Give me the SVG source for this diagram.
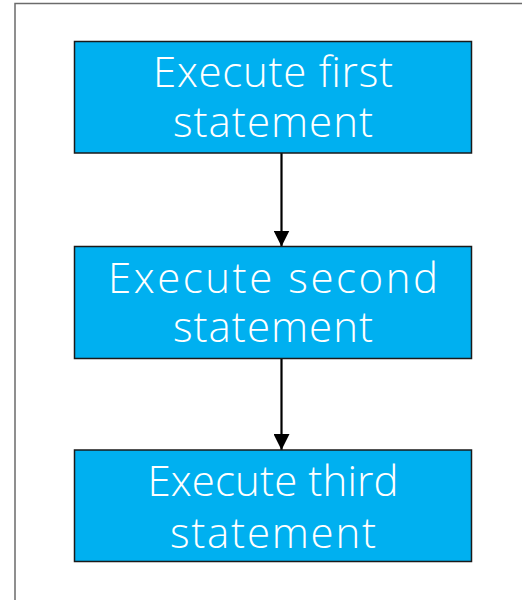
<svg xmlns="http://www.w3.org/2000/svg" width="522" height="600" viewBox="0 0 522 600">
  <defs>
    <style>
      .box { fill: #00B0F0; stroke: #1a1a1a; stroke-width: 1.5; }
      .label { fill: #ffffff; font-family: "Open Sans", "Noto Sans", sans-serif; font-size: 42px; font-weight: 300; text-anchor: middle; }
      .edge { stroke: #000000; stroke-width: 2.2; fill: none; marker-end: url(#head); }
    </style>
    <marker id="head" viewBox="0 0 16 16" refX="16" refY="8" markerWidth="16" markerHeight="16" markerUnits="userSpaceOnUse" orient="auto">
      <path d="M0,0 L16,8 L0,16 Z" fill="#000000"/>
    </marker>
  </defs>

  <rect width="522" height="600" fill="#ffffff"/>
  <!-- outer frame -->
  <path d="M15,605 L15,3.5 L530,3.5" fill="none" stroke="#6b6b6b" stroke-width="1.5"/>

  <g id="connectors">
    <line class="edge" x1="281.5" y1="153" x2="281.5" y2="246.5"/>
    <line class="edge" x1="281.5" y1="359" x2="281.5" y2="450"/>
  </g>

  <g id="node-first">
    <rect class="box" x="74.5" y="41.5" width="397" height="111.5"/>
    <text class="label" x="273" y="87" textLength="240" lengthAdjust="spacing">Execute first</text>
    <text class="label" x="273" y="137" textLength="200" lengthAdjust="spacing">statement</text>
  </g>

  <g id="node-second">
    <rect class="box" x="74.5" y="246.5" width="397" height="112"/>
    <text class="label" x="273" y="293" textLength="330" lengthAdjust="spacing">Execute second</text>
    <text class="label" x="273" y="342" textLength="200" lengthAdjust="spacing">statement</text>
  </g>

  <g id="node-third">
    <rect class="box" x="74.5" y="450" width="397" height="111.5"/>
    <text class="label" x="273" y="496" textLength="251" lengthAdjust="spacing">Execute third</text>
    <text class="label" x="273" y="548" textLength="206" lengthAdjust="spacing">statement</text>
  </g>
</svg>
